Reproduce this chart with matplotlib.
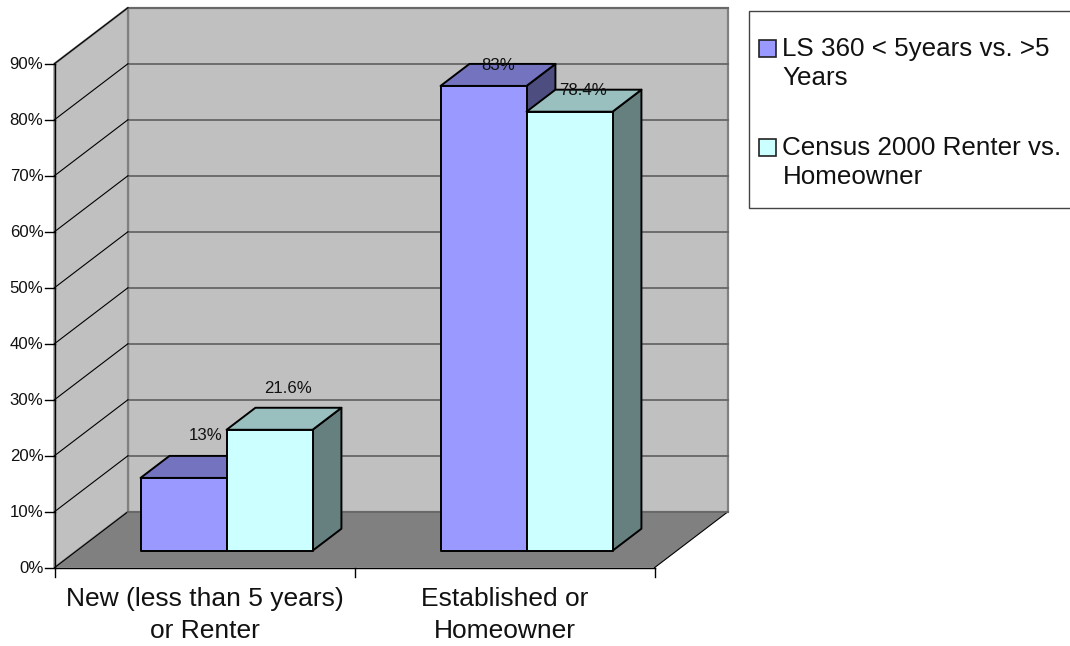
#Recreate the 3D clustered column chart in plain matplotlib
import matplotlib
matplotlib.use('Agg')
import matplotlib.pyplot as plt
from matplotlib.patches import Polygon, Rectangle

plt.rcParams['font.family'] = ['Liberation Sans', 'DejaVu Sans']

#The data
categories = ['New (less than 5 years)\nor Renter', 'Established or\nHomeowner']
series_names = ['LS 360 < 5years vs. >5\nYears', 'Census 2000 Renter vs.\nHomeowner']
ls360 = [13, 83]
census = [21.6, 78.4]
value_labels = [['13%', '83%'], ['21.6%', '78.4%']]
y_ticks = [0, 10, 20, 30, 40, 50, 60, 70, 80, 90]

#Colors for each series: front, top, side
face_colors = [('#9999FF', '#7373BF', '#4D4D80'), ('#CCFFFF', '#99BFBF', '#668080')]
wall_color = '#C0C0C0'
floor_color = '#808080'

#Layout of the fake 3D box, in pixels
x0, y0 = 54.5, 567.7
cat_w = 300.0
px_per_pct = 5.6
depth_x, depth_y = 73.5, 56.0
y_max = 90
bar_w = 0.2867
bar_gap = 0.2125
d_front, d_back = 0.303, 0.696

#Project (category position, value, depth) to pixels
def proj(x, v, d):
    return (x0 + x * cat_w + depth_x * d, y0 - v * px_per_pct - depth_y * d)

fig = plt.figure(figsize=(10.7, 6.46), dpi=100)
ax = fig.add_axes([0, 0, 1, 1])
ax.set_xlim(0, 1070)
ax.set_ylim(646, 0)
ax.axis('off')

n_cat = len(categories)

#Walls and floor
ax.add_patch(Polygon([proj(0, 0, 1), proj(n_cat, 0, 1), proj(n_cat, y_max, 1), proj(0, y_max, 1)],
                     closed=True, fc=wall_color, ec='#808080', lw=1.6, zorder=1))
ax.add_patch(Polygon([proj(0, 0, 0), proj(0, 0, 1), proj(0, y_max, 1), proj(0, y_max, 0)],
                     closed=True, fc=wall_color, ec='#808080', lw=1.6, zorder=1))
ax.add_patch(Polygon([proj(0, 0, 0), proj(n_cat, 0, 0), proj(n_cat, 0, 1), proj(0, 0, 1)],
                     closed=True, fc=floor_color, ec='none', zorder=2))

#Gridlines on both walls
for v in y_ticks[1:]:
    a, b, c = proj(0, v, 0), proj(0, v, 1), proj(n_cat, v, 1)
    ax.plot([b[0], c[0]], [b[1], c[1]], color='#666666', lw=1.3, zorder=1.5)
    ax.plot([a[0], b[0]], [a[1], b[1]], color='black', lw=0.8, zorder=1.5)

#Edges of the floor
for p, q in [((0, 0, 0), (0, 0, 1)), ((n_cat, 0, 0), (n_cat, 0, 1))]:
    a, b = proj(*p), proj(*q)
    ax.plot([a[0], b[0]], [a[1], b[1]], color='black', lw=0.8, zorder=2.5)
a, b = proj(0, 0, 1), proj(n_cat, 0, 1)
ax.plot([a[0], b[0]], [a[1], b[1]], color='#666666', lw=1.3, zorder=2.5)

#Axis lines, ticks and tick labels
a, b = proj(0, 0, 0), proj(0, y_max, 0)
ax.plot([a[0], b[0]], [a[1], b[1]], color='black', lw=1, zorder=3)
a, b = proj(0, 0, 0), proj(n_cat, 0, 0)
ax.plot([a[0], b[0]], [a[1], b[1]], color='black', lw=1, zorder=3)
for v in y_ticks:
    px, py = proj(0, v, 0)
    ax.plot([px - 9.5, px], [py, py], color='black', lw=1, zorder=3)
    ax.text(43.5, py + 1, '%d%%' % v, ha='right', va='center', fontsize=12.1, color='#111111')
for i in range(n_cat + 1):
    px, py = proj(i, 0, 0)
    ax.plot([px, px], [py, py + 9.5], color='black', lw=1, zorder=3)
for i, name in enumerate(categories):
    px, _ = proj(i + 0.5, 0, 0)
    for k, line in enumerate(name.split('\n')):
        ax.text(px, 599 + 32 * k, line, ha='center', va='center', fontsize=19, color='#111111')

#Bars: front, top and side faces
def draw_bar(x, v, colors, z):
    d1, d2 = d_front, d_back
    x2 = x + bar_w
    front = [proj(x, 0, d1), proj(x2, 0, d1), proj(x2, v, d1), proj(x, v, d1)]
    top = [proj(x, v, d1), proj(x2, v, d1), proj(x2, v, d2), proj(x, v, d2)]
    side = [proj(x2, 0, d1), proj(x2, 0, d2), proj(x2, v, d2), proj(x2, v, d1)]
    for pts, col in zip([side, top, front], [colors[2], colors[1], colors[0]]):
        ax.add_patch(Polygon(pts, closed=True, fc=col, ec='black', lw=1.4, joinstyle='round', zorder=z))

for i in range(n_cat):
    x = i + bar_gap
    draw_bar(x, ls360[i], face_colors[0], 4)
    draw_bar(x + bar_w, census[i], face_colors[1], 5)

#Value labels, moved by hand from the front top corner of each bar
label_shift = [[(22.5, -42), (15, -20)], [(18, -41), (13.5, -21)]]
for s, vals in enumerate([ls360, census]):
    for i, v in enumerate(vals):
        px, py = proj(i + bar_gap + bar_w * (s + 0.5), v, d_front)
        dx, dy = label_shift[s][i]
        ax.text(px + dx, py + dy, value_labels[s][i], ha='center', va='center',
                fontsize=12.1, color='#111111', zorder=6)

#Legend box
ax.add_patch(Rectangle((748.5, 10.5), 330, 197.5, fc='white', ec='#444444', lw=1, zorder=1))
legend_y = [48, 147]
for name, colors, ly in zip(series_names, face_colors, legend_y):
    ax.add_patch(Rectangle((759, ly - 8.5), 16.5, 17, fc=colors[0], ec='#222222', lw=1.2, zorder=2))
    for k, line in enumerate(name.split('\n')):
        ax.text(782.5, ly + 1 + 29 * k, line, ha='left', va='center', fontsize=18.7, color='#111111', zorder=3)

plt.savefig('out.png', dpi=100)
